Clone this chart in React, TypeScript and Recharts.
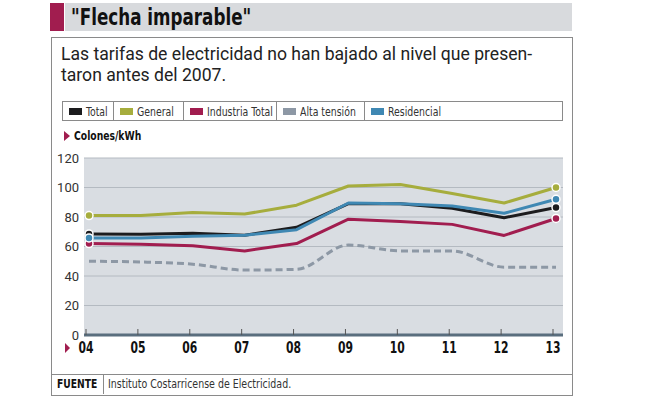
import React from "react";
import { LineChart, Line, XAxis, YAxis, CartesianGrid } from "recharts";

const years = ["04", "05", "06", "07", "08", "09", "10", "11", "12", "13"];
const general = [81, 81, 83, 82, 88, 101, 102, 96, 89.5, 100];
const residencial = [65.8, 65.8, 67, 67.7, 71.4, 89.5, 89, 87.5, 82.5, 92];
const total = [68.5, 68.3, 69, 67.7, 73, 89, 89, 86, 79.5, 86.4];
const industria = [62, 61.5, 60.5, 57, 62, 78.5, 77, 75, 67.5, 79];
const altaTension = [50, 49.5, 48, 44, 44.5, 61, 57, 57, 46, 46];
const yTicks = [0, 20, 40, 60, 80, 100, 120];

const series = [
  { key: "total", name: "Total", color: "#1c1c1e", values: total },
  { key: "general", name: "General", color: "#a6ad3d", values: general },
  { key: "industria", name: "Industria Total", color: "#a11d4f", values: industria },
  { key: "alta", name: "Alta tensión", color: "#8d98a5", values: altaTension },
  { key: "residencial", name: "Residencial", color: "#3f88b3", values: residencial },
];

const data = years.map((year, i) => {
  const row: Record<string, string | number> = { year };
  series.forEach((s) => (row[s.key] = s.values[i]));
  return row;
});

const COND = '"DejaVu Sans Condensed", "DejaVu Sans", sans-serif';
const SANS = 'Roboto, "Liberation Sans", sans-serif';
const RED = "#a11d4f";

const legendWidths = [51, 70, 94, 88, 198];

// condensed text: the original face is narrow, so squeeze a wider one
function Narrow({ k, children }: { k: number; children: React.ReactNode }) {
  return (
    <span
      style={{
        display: "inline-block",
        whiteSpace: "nowrap",
        transform: `scaleX(${k})`,
        transformOrigin: "left center",
      }}
    >
      {children}
    </span>
  );
}

function endDot(color: string) {
  return (props: any) => {
    const { cx, cy, index } = props;
    if (index !== 0 && index !== years.length - 1) return <g key={index} />;
    return (
      <circle key={index} cx={cx} cy={cy} r={4} fill={color} stroke="#fff" strokeWidth={1.5} />
    );
  };
}

function XTick(props: any) {
  const { x, y, payload, index } = props;
  const cx = x - 3;
  return (
    <g>
      <line x1={cx} x2={cx} y1={y - 6} y2={y} stroke="#555" strokeWidth={1} />
      {index === 0 && (
        <polygon points={`${x - 24},${y + 8} ${x - 19},${y + 13} ${x - 24},${y + 18}`} fill={RED} />
      )}
      <text
        transform={`translate(${cx},${y + 18}) scale(0.8,1)`}
        textAnchor="middle"
        fontFamily={COND}
        fontWeight="bold"
        fontSize={15}
        fill="#111"
      >
        {payload.value}
      </text>
    </g>
  );
}

export default function App() {
  return (
    <div style={{ position: "absolute", left: 0, top: 0, width: 653, height: 398, background: "#fff" }}>
      {/* title bar */}
      <div style={{ position: "absolute", left: 50, top: 3, width: 14, height: 28, background: RED }} />
      <div style={{ position: "absolute", left: 65, top: 3, width: 507, height: 28, background: "#d8dadd" }} />
      <div
        style={{
          position: "absolute",
          left: 71,
          top: 3,
          fontFamily: COND,
          fontWeight: "bold",
          fontSize: 23,
          lineHeight: "28px",
          color: "#111",
        }}
      >
        <Narrow k={0.81}>"Flecha imparable"</Narrow>
      </div>

      {/* box */}
      <div
        style={{
          position: "absolute",
          left: 51,
          top: 37,
          width: 520,
          height: 357,
          border: "1px solid #8a8a8a",
        }}
      />
      <div
        style={{
          position: "absolute",
          left: 61,
          top: 44,
          fontFamily: SANS,
          fontSize: 17.6,
          lineHeight: "21px",
          color: "#222",
          whiteSpace: "nowrap",
        }}
      >
        Las tarifas de electricidad no han bajado al nivel que presen-
        <br />
        taron antes del 2007.
      </div>

      {/* legend */}
      <div
        style={{
          position: "absolute",
          left: 62,
          top: 101,
          width: 499,
          height: 18,
          border: "1px solid #8a8a8a",
          display: "flex",
          fontFamily: COND,
          fontSize: 13,
          color: "#333",
        }}
      >
        {series.map((s, i) => (
          <div
            key={s.key}
            style={{
              width: legendWidths[i],
              display: "flex",
              alignItems: "center",
              borderRight: i < series.length - 1 ? "1px solid #8a8a8a" : "none",
              paddingLeft: 6,
              boxSizing: "border-box",
              whiteSpace: "nowrap",
              overflow: "hidden",
            }}
          >
            <span
              style={{ width: 13, height: 7, background: s.color, marginRight: 4, display: "inline-block", flexShrink: 0 }}
            />
            <Narrow k={0.8}>{s.name}</Narrow>
          </div>
        ))}
      </div>

      {/* unit label */}
      <svg style={{ position: "absolute", left: 63, top: 131 }} width={8} height={12}>
        <polygon points="1,0 7,5 1,10" fill={RED} />
      </svg>
      <div
        style={{
          position: "absolute",
          left: 74,
          top: 128,
          fontFamily: COND,
          fontWeight: "bold",
          fontSize: 13,
          color: "#111",
        }}
      >
        <Narrow k={0.79}>Colones/kWh</Narrow>
      </div>

      <div style={{ position: "absolute", left: 0, top: 140 }}>
        <LineChart width={653} height={230} data={data} margin={{ top: 18, right: 90, bottom: 0, left: 54 }}>
          <CartesianGrid vertical={false} fill="#d9dde2" stroke="#b4bac1" />
          <XAxis
            dataKey="year"
            padding={{ left: 5, right: 7 }}
            height={35}
            tickSize={0}
            tickMargin={0}
            tick={<XTick />}
            interval={0}
            axisLine={{ stroke: "#5a6e7e", strokeWidth: 3 }}
            tickLine={false}
          />
          <YAxis
            domain={[0, 120]}
            ticks={yTicks}
            width={30}
            tickSize={3}
            tickMargin={2}
            axisLine={false}
            tickLine={false}
            tick={{ fill: "#333", fontSize: 13, fontFamily: SANS }}
          />
          {[series[3], series[1], series[2], series[0], series[4]].map((s) => (
            <Line
              key={s.key}
              type={s.key === "alta" ? "monotone" : "linear"}
              dataKey={s.key}
              stroke={s.color}
              strokeWidth={3}
              strokeLinejoin="round"
              strokeDasharray={s.key === "alta" ? "7 4" : undefined}
              dot={s.key === "alta" ? false : endDot(s.color)}
              activeDot={false}
              isAnimationActive={false}
            />
          ))}
        </LineChart>
      </div>

      {/* footer */}
      <div style={{ position: "absolute", left: 52, top: 374, width: 520, height: 1, background: "#8a8a8a" }} />
      <div style={{ position: "absolute", left: 103, top: 375, width: 1, height: 19, background: "#8a8a8a" }} />
      <div
        style={{
          position: "absolute",
          left: 57,
          top: 377,
          fontFamily: COND,
          fontWeight: "bold",
          fontSize: 12,
          color: "#111",
        }}
      >
        <Narrow k={0.85}>FUENTE</Narrow>
      </div>
      <div
        style={{
          position: "absolute",
          left: 108,
          top: 377,
          fontFamily: COND,
          fontSize: 12,
          color: "#333",
        }}
      >
        <Narrow k={0.875}>Instituto Costarricense de Electricidad.</Narrow>
      </div>
    </div>
  );
}
